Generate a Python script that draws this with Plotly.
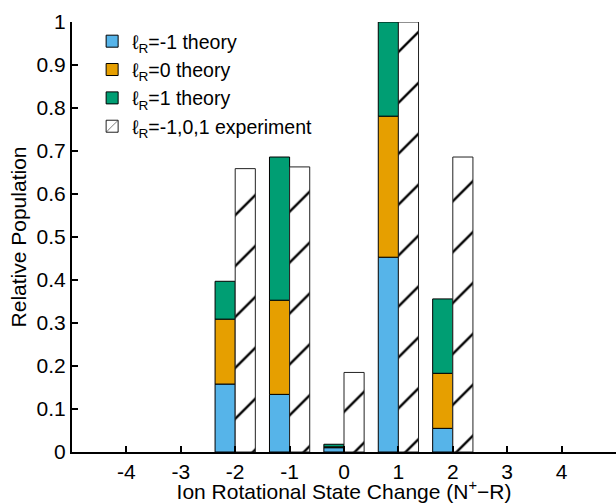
import numpy as np
import plotly.graph_objects as go

# ---- data ----
ion_change = [-2, -1, 0, 1, 2]
theory_lm1 = [0.158, 0.134, 0.010, 0.453, 0.055]
theory_l0 = [0.151, 0.219, 0.002, 0.328, 0.128]
theory_l1 = [0.088, 0.333, 0.006, 0.219, 0.173]
experiment = [0.659, 0.663, 0.185, 1.0, 0.686]

x_tickvals = [-5, -4, -3, -2, -1, 0, 1, 2, 3, 4, 5]
x_ticktext = ["", "-4", "-3", "-2", "-1", "0", "1", "2", "3", "4", ""]
y_tickvals = [0, 0.1, 0.2, 0.3, 0.4, 0.5, 0.6, 0.7, 0.8, 0.9, 1]
y_ticktext = ["0", "0.1", "0.2", "0.3", "0.4", "0.5", "0.6", "0.7", "0.8", "0.9", "1"]

names = ["ℓ<sub>R</sub>=-1 theory", "ℓ<sub>R</sub>=0 theory", "ℓ<sub>R</sub>=1 theory"]
colors = ["#56B4E9", "#E69F00", "#009E73"]

BW = 0.37
FONT = "Arial, Liberation Sans, sans-serif"
FS = 21

fig = go.Figure()
base = np.zeros(len(ion_change))
for vals, name, col in zip([theory_lm1, theory_l0, theory_l1], names, colors):
    v = np.array(vals)
    fig.add_trace(go.Bar(
        x=ion_change, y=v, base=base.copy(), name=name,
        width=BW, offset=-BW,
        marker=dict(color=col, line=dict(color="black", width=1)),
    ))
    base = base + v

fig.add_trace(go.Bar(
    x=ion_change, y=experiment, name="ℓ<sub>R</sub>=-1,0,1 experiment",
    width=BW, offset=0,
    marker=dict(color="white", line=dict(color="#222222", width=1),
                pattern=dict(shape="/", fgcolor="black", bgcolor="white",
                             fgopacity=1, fillmode="replace",
                             size=36, solidity=0.065)),
))

fig.update_layout(
    width=616, height=503,
    barmode="overlay",
    plot_bgcolor="white", paper_bgcolor="white",
    margin=dict(l=72, r=0, t=22, b=51),
    font=dict(family=FONT, size=FS, color="black"),
    showlegend=True,
    legend=dict(x=0.037, y=1.0, xanchor="left", yanchor="top",
                bgcolor="rgba(0,0,0,0)", font=dict(size=19.5),
                traceorder="normal", tracegroupgap=0),
    xaxis=dict(range=[-5, 5], tickvals=x_tickvals, ticktext=x_ticktext,
               ticks="inside", ticklen=6, tickwidth=1.5, tickcolor="black",
               showline=True, linecolor="black", linewidth=2,
               showgrid=False, zeroline=False, automargin=False,
               title=dict(text="Ion Rotational State Change (N<sup>+</sup>−R)",
                          font=dict(size=FS), standoff=0)),
    yaxis=dict(range=[0, 1], tickvals=y_tickvals, ticktext=y_ticktext,
               ticks="inside", ticklen=6, tickwidth=1.5, tickcolor="black",
               showline=True, linecolor="black", linewidth=2,
               showgrid=False, zeroline=False, automargin=False,
               title=dict(text="Relative Population", font=dict(size=FS), standoff=4)),
)

fig.write_html("out.html",
               config={"displayModeBar": False},
               post_script="document.body.style.margin='0px';document.body.style.overflow='hidden';")
